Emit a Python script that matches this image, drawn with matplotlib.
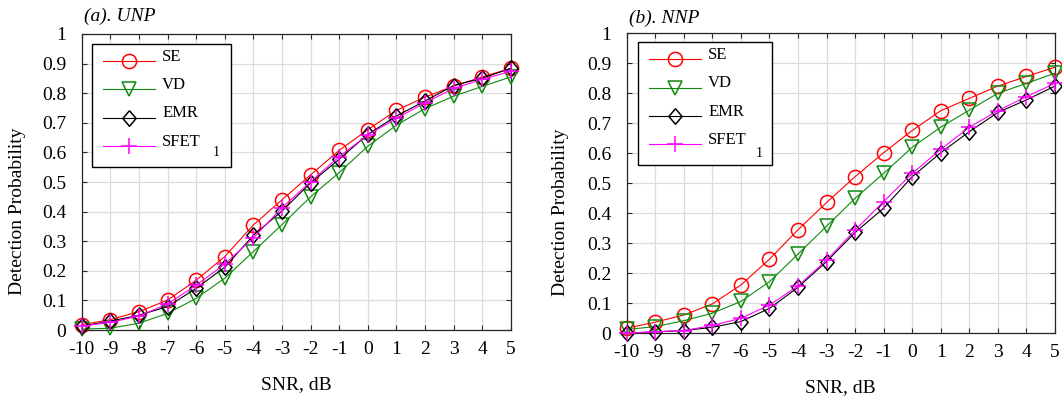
import numpy as np
import matplotlib
matplotlib.use('Agg')
import matplotlib.pyplot as plt
from matplotlib.transforms import ScaledTranslation

plt.rcParams['font.family'] = ['Liberation Serif', 'DejaVu Serif']
plt.rcParams['font.size'] = 14

# ── data ─────────────────────────────────────────────────────────────────────
snr = [-10, -9, -8, -7, -6, -5, -4, -3, -2, -1, 0, 1, 2, 3, 4, 5]
xtick_labels = ['-10', '-9', '-8', '-7', '-6', '-5', '-4', '-3',
                '-2', '-1', '0', '1', '2', '3', '4', '5']
yticks = [0, 0.1, 0.2, 0.3, 0.4, 0.5, 0.6, 0.7, 0.8, 0.9, 1]
ytick_labels = ['0', '0.1', '0.2', '0.3', '0.4', '0.5', '0.6', '0.7', '0.8', '0.9', '1']

# (a) UNP
se_unp   = [0.018, 0.035, 0.062, 0.101, 0.168, 0.248, 0.355, 0.440,
            0.524, 0.607, 0.677, 0.742, 0.787, 0.824, 0.855, 0.884]
vd_unp   = [0.003, 0.006, 0.023, 0.056, 0.107, 0.175, 0.265, 0.356,
            0.450, 0.532, 0.621, 0.692, 0.748, 0.790, 0.823, 0.855]
emr_unp  = [0.013, 0.030, 0.050, 0.079, 0.141, 0.212, 0.320, 0.402,
            0.497, 0.577, 0.661, 0.723, 0.774, 0.826, 0.851, 0.884]
sfet_unp = [0.013, 0.026, 0.047, 0.088, 0.151, 0.223, 0.311, 0.413,
            0.501, 0.586, 0.659, 0.715, 0.768, 0.816, 0.847, 0.874]

# (b) NNP
se_nnp   = [0.017, 0.037, 0.061, 0.098, 0.161, 0.247, 0.345, 0.436,
            0.522, 0.602, 0.676, 0.742, 0.783, 0.824, 0.856, 0.887]
vd_nnp   = [0.013, 0.022, 0.042, 0.067, 0.106, 0.172, 0.264, 0.357,
            0.450, 0.533, 0.620, 0.687, 0.744, 0.800, 0.833, 0.867]
emr_nnp  = [0.000, 0.005, 0.009, 0.020, 0.039, 0.083, 0.153, 0.239,
            0.336, 0.417, 0.522, 0.602, 0.672, 0.736, 0.778, 0.824]
sfet_nnp = [0.000, 0.005, 0.009, 0.026, 0.050, 0.094, 0.158, 0.244,
            0.344, 0.439, 0.533, 0.613, 0.687, 0.742, 0.789, 0.833]

labels = ['SE', 'VD', 'EMR', 'SFET']
colors = ['#ff0000', '#0f8a0f', '#000000', '#ff00ff']
diamond = [(0, 1), (0.85, 0), (0, -1), (-0.85, 0), (0, 1)]
markers = ['o', 'v', diamond, '+']
msizes = [10.2, 10.2, 11.2, 11]

panels = [
    dict(rect=[0.0769, 0.1729, 0.4042, 0.7419], title='(a). UNP', title_y=1.06,
         series=[se_unp, vd_unp, emr_unp, sfet_unp],
         leg=(0.025, 0.53, 0.324, 0.436), sub=(0.314, 0.598),
         ylab=(-0.129, 0.40), xlab=(0.5, -0.155)),
    dict(rect=[0.5901, 0.1647, 0.4033, 0.7519], title='(b). NNP', title_y=1.05,
         series=[se_nnp, vd_nnp, emr_nnp, sfet_nnp],
         leg=(0.027, 0.544, 0.313, 0.426), sub=(0.31, 0.598),
         ylab=(-0.135, 0.403), xlab=(0.5, -0.152)),
]

fig = plt.figure(figsize=(10.62, 3.99), dpi=100)

for p in panels:
    ax = fig.add_axes(p['rect'])
    for ys, lab, c, m, ms in zip(p['series'], labels, colors, markers, msizes):
        ax.plot(snr, ys, color=c, lw=0.8, marker=m, ms=ms, mfc='none',
                mec=c, mew=1.1, label=lab, clip_on=False, zorder=3)

    ax.set_xlim(-10, 5)
    ax.set_ylim(0, 1)
    ax.set_xticks(snr)
    ax.set_xticklabels(xtick_labels)
    ax.set_yticks(yticks)
    ax.set_yticklabels(ytick_labels)
    ax.tick_params(direction='in', length=3.5, width=0.8, top=True, right=True,
                   labelsize=14, color='#262626')
    ax.tick_params(axis='y', pad=11)
    ax.tick_params(axis='x', pad=8)
    ax.grid(True, color='#dcdcdc', lw=0.9)
    ax.set_axisbelow(True)
    for s in ax.spines.values():
        s.set_linewidth(0.9)
        s.set_color('#262626')

    ax.set_ylabel('Detection Probability', fontsize=14)
    ax.yaxis.set_label_coords(*p['ylab'])
    ax.set_xlabel('SNR, dB', fontsize=14)
    ax.xaxis.set_label_coords(*p['xlab'])
    ax.text(0.005, p['title_y'], p['title'], transform=ax.transAxes,
            style='italic', fontsize=14, va='center', ha='left')

    leg = ax.legend(loc='upper left', bbox_to_anchor=p['leg'], mode='expand',
                    fontsize=12, frameon=True, fancybox=False, framealpha=1,
                    edgecolor='black', borderpad=0.65, borderaxespad=0,
                    labelspacing=0.74, handlelength=3.1, handletextpad=0.44)
    leg.get_frame().set_linewidth(1.0)
    leg.set_zorder(5)
    # MATLAB-style legend: labels sit a bit above their sample lines
    for t in leg.get_texts():
        t.set_transform(t.get_transform() +
                        ScaledTranslation(0, 4.5 / 72, fig.dpi_scale_trans))
    ax.text(p['sub'][0], p['sub'][1], '1', transform=ax.transAxes,
            fontsize=10, ha='center', va='center', zorder=6)

fig.savefig('out.png', dpi=100)
